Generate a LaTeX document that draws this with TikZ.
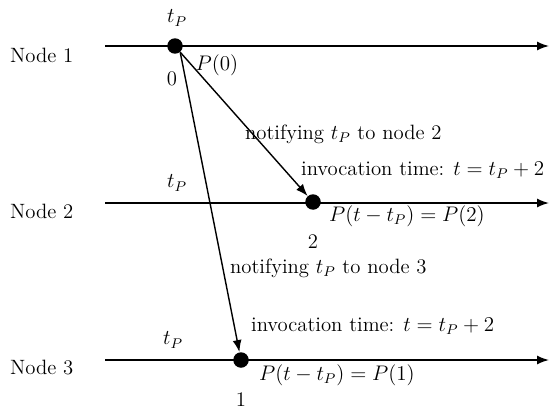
\documentclass[tikz,border=0pt]{standalone}
\usetikzlibrary{arrows.meta, positioning}
\begin{document}
\begin{tikzpicture}[
    x=0.02cm, y=-0.02cm,
    every node/.style={font=\fontsize{11.8}{14}\selectfont, inner sep=1pt},
    dot/.style={circle, fill, inner sep=0pt, minimum size=0.31cm},
    tline/.style={-{Latex[length=2.4mm, width=1.8mm]}, line width=0.9pt},
    arr/.style={-{Latex[length=2.4mm, width=1.8mm]}, line width=0.8pt}
]
    \useasboundingbox (0,0) rectangle (550,412);
    % node 1: time line, event at t_P
    \node[anchor=west] (n1) at (8,55) {Node 1};
    \coordinate (a1) at (105,46);
    \coordinate (b1) at (549,46);
    \draw[tline] (a1) -- (b1);
    \node[dot] (d1) at (175,46) {};
    \node (tp1) at (177,18) {$t_P$};
    \node (z1) at (172,79) {0};
    \node (p0) at (217,65) {$P(0)$};
    % node 2
    \node[anchor=west] (n2) at (8,211) {Node 2};
    \coordinate (a2) at (105,203);
    \coordinate (b2) at (549,203);
    \draw[tline] (a2) -- (b2);
    \node[dot] (d2) at (313,202) {};
    \node (tp2) at (177,183) {$t_P$};
    \node[anchor=west] (inv2) at (299,170) {invocation time: $t=t_P+2$};
    \node[anchor=west] (res2) at (327,216) {$P(t-t_P)=P(2)$};
    \node (z2) at (313,242) {2};
    % node 3
    \node[anchor=west] (n3) at (8,368) {Node 3};
    \coordinate (a3) at (105,360);
    \coordinate (b3) at (549,360);
    \draw[tline] (a3) -- (b3);
    \node[dot] (d3) at (241,360) {};
    \node (tp3) at (173,340) {$t_P$};
    \node[anchor=west] (inv3) at (249,326) {invocation time: $t=t_P+2$};
    \node[anchor=west] (res3) at (257,375) {$P(t-t_P)=P(1)$};
    \node (z3) at (241,400) {1};
    % notifications
    \draw[arr] (d1.-50) -- (d2);
    \draw[arr] (d1.-50) -- (d3);
    \node[anchor=west] (m2) at (243,134) {notifying $t_P$ to node 2};
    \node[anchor=west] (m3) at (228,268) {notifying $t_P$ to node 3};
\end{tikzpicture}
\end{document}
